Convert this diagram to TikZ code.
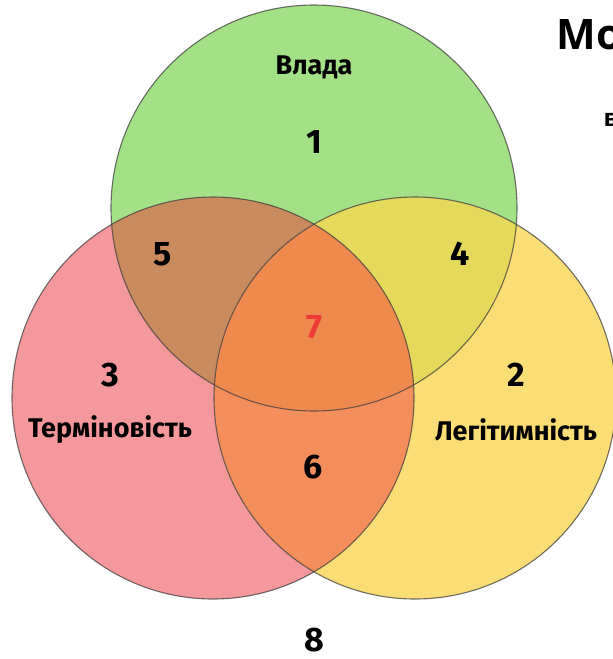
\documentclass[tikz,border=0pt]{standalone}
\usepackage{fontspec}
\setmainfont{Fira Sans}
\newfontfamily\titlefont{Open Sans}
\definecolor{vladagreen}{HTML}{A3E086}
\definecolor{termred}{HTML}{F5989B}
\definecolor{legyellow}{HTML}{FBDD75}
\definecolor{vtbrown}{HTML}{C98A5E}
\definecolor{vlolive}{HTML}{E5D95C}
\definecolor{tlorange}{HTML}{F48E5A}
\definecolor{allorange}{HTML}{EF8A4F}
\definecolor{sevenred}{HTML}{EE3B35}

\begin{document}
\begin{tikzpicture}[x=1pt,y=-1pt,
  ring/.style={draw=black!75,line width=1.1pt,opacity=.75},
  lab/.style={font=\bfseries\fontsize{27}{32}\selectfont},
  num/.style={font=\bfseries\fontsize{34}{40}\selectfont}]
  \useasboundingbox (0,0) rectangle (613,659);
  \coordinate (cg) at (314,208);
  \coordinate (cr) at (213,398);
  \coordinate (cy) at (415,398);
  % base discs
  \fill[vladagreen] (cg) circle[radius=203pt];
  \fill[termred] (cr) circle[radius=201pt];
  \fill[legyellow] (cy) circle[radius=201pt];
  % pairwise overlaps
  \begin{scope}
    \clip (cg) circle[radius=203pt];
    \fill[vtbrown] (cr) circle[radius=201pt];
    \fill[vlolive] (cy) circle[radius=201pt];
  \end{scope}
  \begin{scope}
    \clip (cr) circle[radius=201pt];
    \fill[tlorange] (cy) circle[radius=201pt];
  \end{scope}
  % centre
  \begin{scope}
    \clip (cg) circle[radius=203pt];
    \clip (cr) circle[radius=201pt];
    \fill[allorange] (cy) circle[radius=201pt];
  \end{scope}
  % outlines
  \draw[ring] (cg) circle[radius=203pt];
  \draw[ring] (cr) circle[radius=201pt];
  \draw[ring] (cy) circle[radius=201pt];
  % labels
  \node[lab] (vlada) at (314,67) {Влада};
  \node[lab] (term) at (110,430) {Терміновість};
  \node[lab] (leg) at (516,430) {Легітимність};
  \node[num] (n1) at (314,142) {1};
  \node[num] (n2) at (516,375) {2};
  \node[num] (n3) at (110,375) {3};
  \node[num] (n4) at (460,254) {4};
  \node[num] (n5) at (163,254) {5};
  \node[num] (n6) at (313,467) {6};
  \node[num,text=sevenred] (n7) at (314,327) {7};
  \node[num,inner sep=1pt] (n8) at (314,640) {8};
  \node[anchor=west,font=\titlefont\bfseries\fontsize{42}{48}\selectfont] (title) at (553,35) {Мо};
  \node[anchor=west,font=\titlefont\bfseries\fontsize{24}{28}\selectfont] (sub) at (600,120) {в};
\end{tikzpicture}
\end{document}
